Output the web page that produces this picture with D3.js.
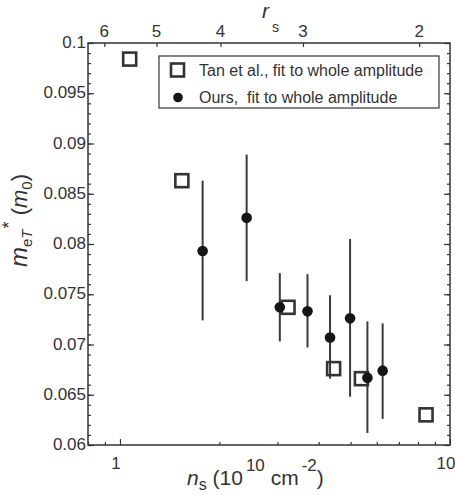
<!DOCTYPE html>
<html>
<head>
<meta charset="utf-8">
<script src="https://cdn.jsdelivr.net/npm/d3@7"></script>
<style>
  body { margin: 0; background: #fff; }
  svg { font-family: "Liberation Sans", Arial, sans-serif; }
</style>
</head>
<body>
<svg id="drawing_region"></svg>
<script>
// Tan et al. (open squares)
const tanN = [1.07, 1.54, 3.23, 4.44, 5.39, 8.46];
const tanM = [0.0984, 0.0863, 0.0737, 0.0676, 0.0666, 0.0630];
// Ours (filled circles with error bars)
const oursN  = [1.78, 2.42, 3.05, 3.70, 4.33, 4.98, 5.62, 6.25];
const oursM  = [0.0793, 0.0826, 0.0737, 0.0733, 0.0707, 0.0726, 0.0667, 0.0674];
const oursLo = [0.0724, 0.0763, 0.0703, 0.0697, 0.0666, 0.0648, 0.0612, 0.0626];
const oursHi = [0.0863, 0.0889, 0.0771, 0.0770, 0.0749, 0.0805, 0.0723, 0.0721];
// axis ticks
const yTicks = [0.06, 0.065, 0.07, 0.075, 0.08, 0.085, 0.09, 0.095, 0.1];
const xTickLabels = [1, 10];
const rsTicks = [6, 5, 4, 3, 2];
const rsConst = 5.68; // r_s = rsConst / sqrt(n_s)

const W = 455, H = 495;
const margin = {top: 43, right: 5, bottom: 50, left: 88};
const ink = '#333';

const svg = d3.select('#drawing_region')
    .attr('width', W)
    .attr('height', H);

const xscale = d3.scaleLog()
    .domain([0.8, 10])
    .range([margin.left, W - margin.right]);
const yscale = d3.scaleLinear()
    .domain([0.06, 0.1])
    .range([H - margin.bottom, margin.top]);

const x0 = xscale.range()[0], x1 = xscale.range()[1];
const y0 = yscale.range()[0], y1 = yscale.range()[1];

// minor ticks
const yMinor = d3.range(60, 101).map(v => v / 1000);
const xMinor = [0.8, 0.9, 2, 3, 4, 5, 6, 7, 8, 9];

function tickGroup(axis, tx, ty) {
    svg.append('g')
        .attr('transform', `translate(${tx},${ty})`)
        .call(axis.tickFormat(''))
        .call(g => g.select('.domain').remove())
        .selectAll('line').attr('stroke', ink).attr('stroke-width', 1.2);
}
// left and right
tickGroup(d3.axisRight(yscale).tickValues(yMinor).tickSize(3), x0, 0);
tickGroup(d3.axisRight(yscale).tickValues(yTicks).tickSize(6), x0, 0);
tickGroup(d3.axisLeft(yscale).tickValues(yMinor).tickSize(3), x1, 0);
tickGroup(d3.axisLeft(yscale).tickValues(yTicks).tickSize(6), x1, 0);
// bottom
tickGroup(d3.axisTop(xscale).tickValues(xMinor).tickSize(3), 0, y0);
tickGroup(d3.axisTop(xscale).tickValues(xTickLabels).tickSize(6), 0, y0);
// top (r_s)
const rsToN = r => (rsConst / r) * (rsConst / r);
tickGroup(d3.axisBottom(xscale).tickValues(rsTicks.map(rsToN)).tickSize(4), 0, y1);

// frame
svg.append('rect')
    .attr('x', x0).attr('y', y1)
    .attr('width', x1 - x0).attr('height', y0 - y1)
    .attr('fill', 'none').attr('stroke', ink).attr('stroke-width', 1.5);

// tick labels
svg.append('g').selectAll('text')
    .data(yTicks).join('text')
    .attr('x', x0 - 2)
    .attr('y', d => yscale(d) + 5)
    .attr('text-anchor', 'end')
    .attr('font-size', 17)
    .attr('fill', ink)
    .text(d => d3.format('')(d));
svg.append('g').selectAll('text')
    .data(xTickLabels).join('text')
    .attr('x', d => xscale(d) - 4)
    .attr('y', y0 + 24)
    .attr('text-anchor', 'middle')
    .attr('font-size', 17)
    .attr('fill', ink)
    .text(d => d);
svg.append('g').selectAll('text')
    .data(rsTicks).join('text')
    .attr('x', d => xscale(rsToN(d)))
    .attr('y', y1 - 6)
    .attr('text-anchor', 'middle')
    .attr('font-size', 17)
    .attr('fill', ink)
    .text(d => d);

// axis titles: each piece gets its own absolute baseline (start-anchored)
function richText(parent, x, y, parts) {
    const t = parent.append('text')
        .attr('x', x).attr('y', y)
        .attr('fill', ink);
    parts.forEach(p => {
        const s = t.append('tspan')
            .attr('y', y + (p.shift || 0))
            .attr('font-size', p.size)
            .style('white-space', 'pre')
            .text(p.text);
        if (p.italic) s.attr('font-style', 'italic');
        if (p.dx) s.attr('dx', p.dx);
    });
    return t;
}

richText(svg, 262, 18, [
    {text: 'r', size: 21, italic: true},
    {text: 's', size: 14, shift: 14, dx: 3}
]);

richText(svg, 187, 485, [
    {text: 'n', size: 21, italic: true},
    {text: 's', size: 16, shift: 5},
    {text: ' (10', size: 21},
    {text: '10', size: 17, shift: -14, dx: 3},
    {text: ' cm', size: 21},
    {text: '-2', size: 17, shift: -14, dx: 3},
    {text: ')', size: 21}
]);

// y title drawn horizontally inside a rotated group, starting at the bottom
const ytg = svg.append('g').attr('transform', 'translate(27,267) rotate(-90)');
richText(ytg, 0, 0, [
    {text: 'm', size: 24, italic: true},
    {text: 'e', size: 15, shift: 5},
    {text: 'T', size: 15, shift: 5, italic: true},
    {text: '*', size: 18, shift: -12, dx: 1},
    {text: ' (', size: 22},
    {text: 'm', size: 22, italic: true},
    {text: '0', size: 15, shift: 5},
    {text: ')', size: 22}
]);

// data
const ours = oursN.map((n, i) => ({n: n, m: oursM[i], lo: oursLo[i], hi: oursHi[i]}));
const tan = tanN.map((n, i) => ({n: n, m: tanM[i]}));

svg.append('g').selectAll('line')
    .data(ours).join('line')
    .attr('x1', d => xscale(d.n)).attr('x2', d => xscale(d.n))
    .attr('y1', d => yscale(d.lo)).attr('y2', d => yscale(d.hi))
    .attr('stroke', '#3a3a3a').attr('stroke-width', 2);

const sq = 13;
svg.append('g').selectAll('rect')
    .data(tan).join('rect')
    .attr('x', d => xscale(d.n) - sq / 2)
    .attr('y', d => yscale(d.m) - sq / 2)
    .attr('width', sq).attr('height', sq)
    .attr('fill', 'none')
    .attr('stroke', '#333').attr('stroke-width', 2.6);

svg.append('g').selectAll('circle')
    .data(ours).join('circle')
    .attr('cx', d => xscale(d.n))
    .attr('cy', d => yscale(d.m))
    .attr('r', 5.3)
    .attr('fill', '#151515');

// legend
const lg = svg.append('g');
lg.append('rect')
    .attr('x', 159).attr('y', 56).attr('width', 280).attr('height', 52)
    .attr('fill', '#fff').attr('stroke', ink).attr('stroke-width', 1.2);
lg.append('rect')
    .attr('x', 177.5 - sq / 2).attr('y', 70 - sq / 2)
    .attr('width', sq).attr('height', sq)
    .attr('fill', 'none').attr('stroke', '#333').attr('stroke-width', 2.6);
lg.append('circle')
    .attr('cx', 178).attr('cy', 97.5).attr('r', 4.8).attr('fill', '#151515');
lg.append('text')
    .attr('x', 199).attr('y', 76)
    .attr('font-size', 16).attr('fill', ink)
    .text('Tan et al., fit to whole amplitude');
lg.append('text')
    .attr('x', 199).attr('y', 102.5)
    .attr('font-size', 16).attr('fill', ink)
    .style('white-space', 'pre')
    .text('Ours,  fit to whole amplitude');
</script>
</body>
</html>
